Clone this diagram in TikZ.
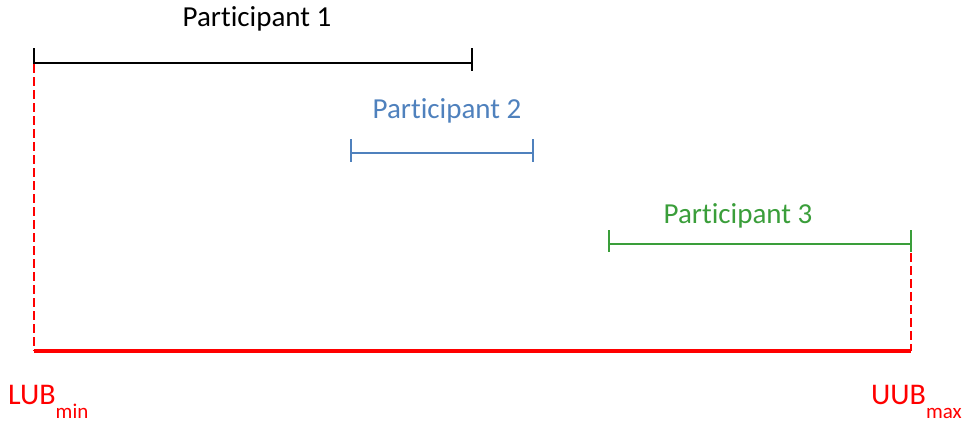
\documentclass[tikz,border=0pt]{standalone}
\usepackage{fontspec}
\setmainfont[Ligatures=NoCommon]{Carlito}
\definecolor{pblue}{HTML}{4F81BD}
\definecolor{pgreen}{HTML}{3A9E3A}
\definecolor{lred}{HTML}{FF0000}
\begin{document}
\begin{tikzpicture}[x=1pt,y=-1pt,
  bar/.style={line width=2pt},
  tick/.style={line width=2pt},
  lbl/.style={font=\fontsize{29}{34}\selectfont, anchor=base, inner sep=0pt},
  bound/.style={font=\fontsize{30}{34}\selectfont, text=lred, anchor=base west, inner sep=0pt},
  guide/.style={draw=lred, line width=2pt, dash pattern=on 9pt off 4pt},
  base/.style={draw=lred, line width=3.5pt}]
\useasboundingbox (0,0) rectangle (966,423);
% participant 1
\coordinate (a1) at (34,63); \coordinate (b1) at (472,63);
\draw[bar] (a1) -- (b1);
\draw[tick] (34,48) -- (34,71);
\draw[tick] (472,48) -- (472,71);
\node[lbl] (t1) at (257,26) {Participant 1};
% participant 2
\coordinate (a2) at (351,153); \coordinate (b2) at (533,153);
\draw[bar, pblue] (a2) -- (b2);
\draw[tick, pblue] (351,139) -- (351,162);
\draw[tick, pblue] (533,139) -- (533,162);
\node[lbl, text=pblue] (t2) at (447,118) {Participant 2};
% participant 3
\coordinate (a3) at (609,244); \coordinate (b3) at (911,244);
\draw[bar, pgreen] (a3) -- (b3);
\draw[tick, pgreen] (609,230) -- (609,252);
\draw[tick, pgreen] (911,230) -- (911,252);
\node[lbl, text=pgreen] (t3) at (738,223) {Participant 3};
% bounds
\coordinate (l0) at (34,351); \coordinate (r0) at (911,351);
\draw[guide] (34,64) -- (l0);
\draw[guide] (911,253) -- (r0);
\draw[base] (l0) -- (r0);
\node[bound] (lub) at (8,404) {LUB\raisebox{-14pt}{\fontsize{21}{24}\selectfont min}};
\node[bound] (uub) at (871,404) {UUB\raisebox{-14pt}{\fontsize{21}{24}\selectfont max}};
\end{tikzpicture}
\end{document}
